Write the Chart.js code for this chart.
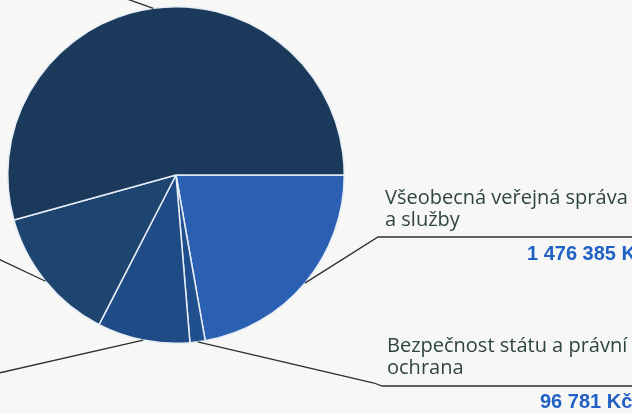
<!DOCTYPE html>
<html lang="cs">
<head>
<meta charset="utf-8">
<script src="https://cdn.jsdelivr.net/npm/chart.js@4.4.1/dist/chart.umd.min.js"></script>
<style>
  html, body { margin: 0; padding: 0; background: #f7f8f6; overflow: hidden; }
  #wrap { width: 632px; height: 413px; }
</style>
</head>
<body>
<div id="wrap"><canvas id="budgetChart" width="632" height="413"></canvas></div>
<script>
// slices clockwise from 3 o'clock
const labels = [
  'Všeobecná veřejná správa a služby',
  'Bezpečnost státu a právní ochrana',
  'Oblast 3',
  'Oblast 4',
  'Oblast 5'
];
const values = [1476385, 96781, 590000, 872000, 3608000];
const valueLabels = ['1 476 385 Kč', '96 781 Kč', '', '', ''];
const labelLines = [
  ['Všeobecná veřejná správa', 'a služby'],
  ['Bezpečnost státu a právní', 'ochrana'],
  [], [], []
];
const colors = ['#2a5fb2', '#204f8e', '#1f4c86', '#1d4570', '#1b3a5b'];

// where the leader lines go after leaving the pie, and where the texts sit
const leaders = [
  { path: [[378, 237], [640, 237]], text: [385, 204], value: [527, 260] },
  { path: [[374, 383], [382, 386], [640, 386]], text: [387, 352], value: [540, 408] },
  { path: [[-10, 375]] },
  { path: [[-10, 255]] },
  { path: [[110, -7]] }
];

const calloutPlugin = {
  id: 'callouts',
  afterDatasetsDraw(chart) {
    const ctx = chart.ctx;
    const arcs = chart.getDatasetMeta(0).data;
    ctx.save();
    arcs.forEach((arc, i) => {
      const c = leaders[i];
      const mid = (arc.startAngle + arc.endAngle) / 2;
      const ax = arc.x + Math.cos(mid) * arc.outerRadius;
      const ay = arc.y + Math.sin(mid) * arc.outerRadius;
      ctx.strokeStyle = '#2a302f';
      ctx.lineWidth = 1.3;
      ctx.beginPath();
      ctx.moveTo(ax, ay);
      c.path.forEach(p => ctx.lineTo(p[0], p[1]));
      ctx.stroke();

      if (c.text) {
        ctx.fillStyle = '#2f4542';
        ctx.font = '20px "Open Sans"';
        ctx.textAlign = 'left';
        ctx.textBaseline = 'alphabetic';
        labelLines[i].forEach((t, k) => ctx.fillText(t, c.text[0], c.text[1] + k * 22));
        ctx.fillStyle = '#2160c4';
        ctx.font = 'bold 20px "Liberation Sans"';
        ctx.fillText(valueLabels[i], c.value[0], c.value[1]);
      }
    });
    ctx.restore();
  }
};

new Chart(document.getElementById('budgetChart'), {
  type: 'pie',
  data: {
    labels: labels,
    datasets: [{
      data: values,
      backgroundColor: colors,
      borderColor: '#e6edf6',
      borderWidth: 1.5
    }]
  },
  options: {
    responsive: false,
    animation: false,
    rotation: 90,
    layout: { padding: { left: 7, top: 6, right: 287, bottom: 69 } },
    plugins: {
      legend: { display: false },
      tooltip: { enabled: false }
    }
  },
  plugins: [calloutPlugin]
});
</script>
</body>
</html>
